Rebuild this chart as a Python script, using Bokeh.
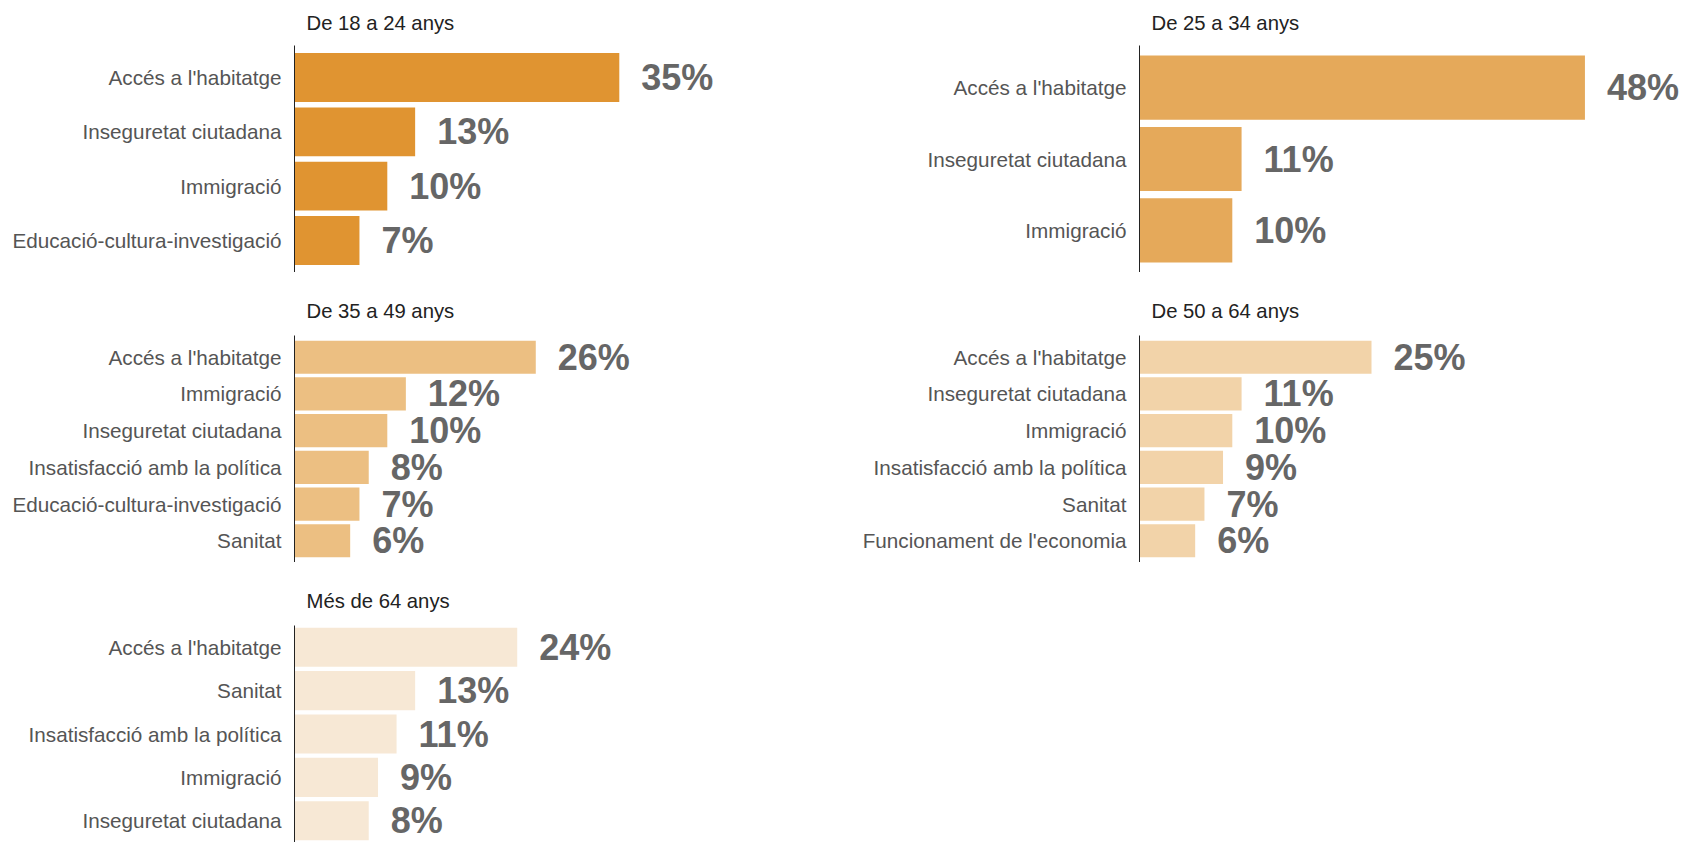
from bokeh.plotting import figure
from bokeh.models import FactorRange, Range1d, ColumnDataSource
from bokeh.layouts import column, row
from bokeh.embed import file_html
from bokeh.resources import INLINE
from bokeh.core.properties import value

# ---- data ----
titles = ["De 18 a 24 anys", "De 25 a 34 anys", "De 35 a 49 anys", "De 50 a 64 anys", "Més de 64 anys"]

cats_18_24 = ["Accés a l'habitatge", "Inseguretat ciutadana", "Immigració", "Educació-cultura-investigació"]
vals_18_24 = [35, 13, 10, 7]

cats_25_34 = ["Accés a l'habitatge", "Inseguretat ciutadana", "Immigració"]
vals_25_34 = [48, 11, 10]

cats_35_49 = ["Accés a l'habitatge", "Immigració", "Inseguretat ciutadana",
              "Insatisfacció amb la política", "Educació-cultura-investigació", "Sanitat"]
vals_35_49 = [26, 12, 10, 8, 7, 6]

cats_50_64 = ["Accés a l'habitatge", "Inseguretat ciutadana", "Immigració",
              "Insatisfacció amb la política", "Sanitat", "Funcionament de l'economia"]
vals_50_64 = [25, 11, 10, 9, 7, 6]

cats_65 = ["Accés a l'habitatge", "Sanitat", "Insatisfacció amb la política",
           "Immigració", "Inseguretat ciutadana"]
vals_65 = [24, 13, 11, 9, 8]

colors = ["#E09431", "#E5A95A", "#ECBF82", "#F2D3A9", "#F7E8D5"]

PX_PER_PCT = 9.28
FONT = "Liberation Sans"


def make(title, cats, vals, color, frame_w, frame_h, border_left, border_top,
         border_bottom, pad, title_standoff, title_valign):
    src = ColumnDataSource(dict(cat=cats, val=vals, lbl=[f"{v}%" for v in vals]))
    p = figure(
        y_range=FactorRange(factors=list(reversed(cats)), range_padding=pad,
                            range_padding_units="absolute"),
        x_range=Range1d(0, frame_w / PX_PER_PCT),
        frame_width=frame_w, frame_height=frame_h,
        min_border_left=border_left, min_border_right=0,
        min_border_top=border_top, min_border_bottom=border_bottom,
        x_axis_location=None,
        toolbar_location=None, output_backend="svg", title=title,
    )
    p.hbar(y="cat", right="val", left=0, height=0.9, source=src,
           fill_color=color, line_color=None)
    p.text(x="val", y="cat", text="lbl", source=src, x_offset=22,
           text_align="left", text_baseline="middle",
           text_font=value(FONT), text_font_size="36px",
           text_font_style="bold", text_color="#666666")
    ax = p.yaxis[0]
    ax.major_tick_line_color = None
    ax.minor_tick_line_color = None
    ax.major_tick_out = 0
    ax.major_tick_in = 0
    ax.major_label_standoff = 13
    ax.axis_line_color = "#222222"
    ax.axis_line_width = 1
    ax.major_label_text_font = FONT
    ax.major_label_text_font_size = "20.7px"
    ax.major_label_text_color = "#555555"
    p.grid.visible = False
    p.outline_line_color = None
    p.title.text_font = FONT
    p.title.text_font_size = "20.3px"
    p.title.text_font_style = "normal"
    p.title.text_color = "#222222"
    p.title.align = "left"
    p.title.vertical_align = title_valign
    p.title.offset = 12
    p.title.standoff = title_standoff
    return p


p1 = make(titles[0], cats_18_24, vals_18_24, colors[0], 560, 227, 294, 45, 0, 0.09, 20, "top")
p2 = make(titles[1], cats_25_34, vals_25_34, colors[1], 541, 227, 285, 45, 0, 0.09, 20, "top")
p3 = make(titles[2], cats_35_49, vals_35_49, colors[2], 560, 227, 294, 63, 0, 0.09, 28, "bottom")
p4 = make(titles[3], cats_50_64, vals_50_64, colors[3], 541, 227, 285, 63, 0, 0.09, 28, "bottom")
p5 = make(titles[4], cats_65, vals_65, colors[4], 560, 217, 294, 63, 0, 0.0, 28, "bottom")

layout = column(row(p1, p2), row(p3, p4), row(p5))

open("out.html", "w").write(file_html(layout, INLINE))
